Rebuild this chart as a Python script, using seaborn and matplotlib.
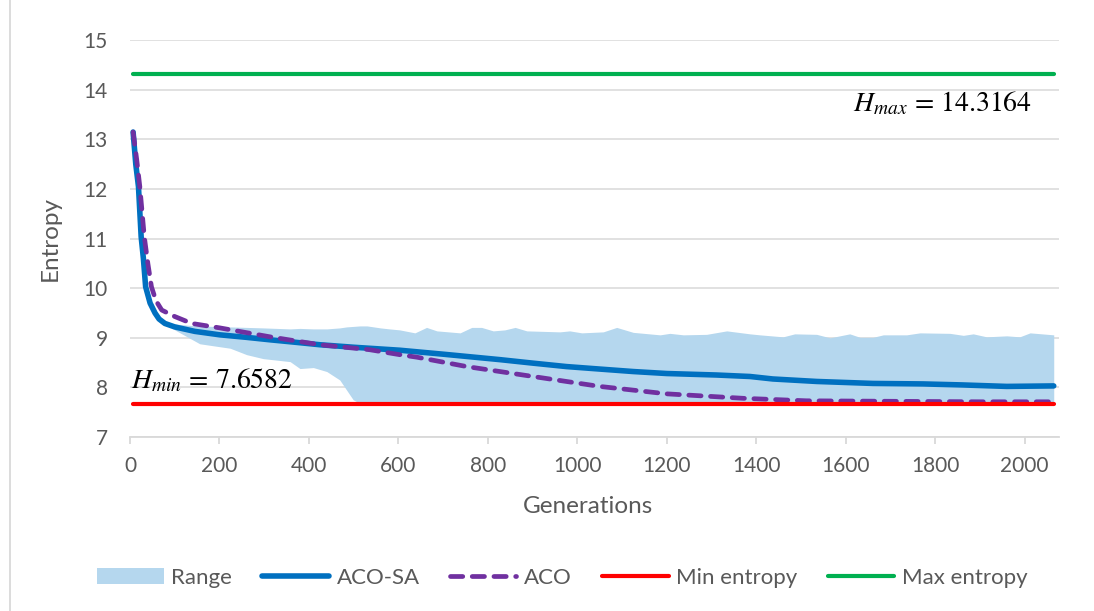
import numpy as np
import matplotlib
matplotlib.use("Agg")
import matplotlib.pyplot as plt
import seaborn as sns
from matplotlib.patches import Patch
from matplotlib.lines import Line2D

# === Data ===
H_MIN = 7.6582
H_MAX = 14.3164

# ACO-SA (solid blue)
sa_gen = [7, 13, 19, 25, 30, 35, 45, 56, 65, 78, 100, 145, 201, 260, 313, 370, 425, 500,
          603, 700, 827, 900, 976, 1050, 1125, 1200, 1311, 1386, 1437, 1535, 1661, 1773,
          1860, 1960, 2065]
sa_val = [13.15, 12.5, 12.05, 11.04, 10.6, 10.03, 9.7, 9.5, 9.38, 9.29, 9.22, 9.13, 9.06,
          9.01, 8.96, 8.91, 8.86, 8.81, 8.75, 8.67, 8.56, 8.49, 8.42, 8.37, 8.32, 8.28,
          8.25, 8.22, 8.17, 8.12, 8.08, 8.07, 8.05, 8.02, 8.03]

# ACO (dashed purple)
aco_gen = [7, 15, 22, 32, 40, 48, 58, 71, 100, 138, 201, 313, 425, 536, 603, 641, 753, 901,
           1050, 1200, 1371, 1512, 1700, 1900, 2065]
aco_val = [13.15, 12.6, 12.05, 11.04, 10.5, 10.03, 9.75, 9.56, 9.43, 9.29, 9.2, 9.02, 8.86,
           8.76, 8.66, 8.61, 8.42, 8.22, 8.02, 7.87, 7.78, 7.73, 7.72, 7.71, 7.71]

# Range band (lower / upper envelope)
band_gen = [60, 80, 100, 134, 156, 186, 224, 261, 298, 328, 358, 380, 410, 440, 469, 484,
            499, 514, 530, 560, 580, 603, 637, 663, 686, 738, 764, 786, 812, 838, 861, 887,
            961, 983, 1010, 1058, 1088, 1125, 1185, 1207, 1237, 1289, 1334, 1386, 1408,
            1460, 1486, 1535, 1565, 1609, 1632, 1661, 1684, 1736, 1766, 1833, 1863, 1885,
            1915, 1960, 1989, 2012, 2065]
band_low = [9.42, 9.28, 9.16, 8.99, 8.88, 8.84, 8.79, 8.66, 8.58, 8.55, 8.52, 8.38, 8.40,
            8.32, 8.15, 7.95, 7.75, 7.68] + [7.66] * 45
band_high = [9.42, 9.32, 9.28, 9.25, 9.24, 9.23, 9.22, 9.21, 9.20, 9.19, 9.18, 9.19, 9.18,
             9.18, 9.20, 9.22, 9.23, 9.24, 9.24, 9.20, 9.18, 9.16, 9.10, 9.21, 9.14, 9.10,
             9.21, 9.21, 9.14, 9.16, 9.21, 9.14, 9.12, 9.14, 9.10, 9.12, 9.21, 9.11, 9.06,
             9.09, 9.06, 9.07, 9.14, 9.08, 9.06, 9.02, 9.08, 9.07, 9.00, 9.08, 9.01, 9.01,
             9.06, 9.06, 9.10, 9.09, 9.05, 9.08, 9.02, 9.04, 9.02, 9.10, 9.06]

x_ticks = list(range(0, 2001, 200))
y_ticks = list(range(7, 16))

# === Style ===
sns.set_theme(style="white")
plt.rcParams['font.family'] = ['Lato', 'DejaVu Sans']
plt.rcParams['mathtext.fontset'] = 'stix'

GRAY = "#595959"
GRID = "#D9D9D9"
C_BAND = "#B5D7EE"
C_SA = "#0070C0"
C_ACO = "#7030A0"
C_MIN = "#FF0000"
C_MAX = "#00B050"

ACO_DASH = (0, (2.6, 2.0))

fig = plt.figure(figsize=(10.94, 6.11), dpi=100)
ax = fig.add_axes([0.1188, 0.2848, 0.8489, 0.6492])

for v in y_ticks:
    ax.axhline(v, color=GRID, lw=1.1, zorder=0)

ax.fill_between(band_gen, band_low, band_high, color=C_BAND, lw=0, zorder=1)

sns.lineplot(x=sa_gen, y=sa_val, ax=ax, color=C_SA, linewidth=4.0,
             solid_capstyle="round", zorder=3)
sns.lineplot(x=aco_gen, y=aco_val, ax=ax, color=C_ACO, linewidth=3.4,
             linestyle=ACO_DASH, dash_capstyle="round", zorder=4)
line_x = [sa_gen[0], sa_gen[-1]]
sns.lineplot(x=line_x, y=[H_MIN, H_MIN], ax=ax, color=C_MIN, linewidth=3.0,
             solid_capstyle="round", zorder=5)
sns.lineplot(x=line_x, y=[H_MAX, H_MAX], ax=ax, color=C_MAX, linewidth=3.0,
             solid_capstyle="round", zorder=5)

ax.text(1616, 13.56, r"$H_{max}\,=\,14.3164$", fontsize=20, color="black",
        ha="left", va="baseline", zorder=6)
ax.text(2, 7.99, r"$H_{min}\,=\,7.6582$", fontsize=20, color="black",
        ha="left", va="baseline", zorder=6)

ax.set_xlim(0, 2076)
ax.set_ylim(7, 15)
ax.set_xticks(x_ticks)
ax.set_yticks(y_ticks)
for s in ["top", "right", "left"]:
    ax.spines[s].set_visible(False)
ax.spines["bottom"].set_color(GRID)
ax.spines["bottom"].set_linewidth(1.3)
ax.spines["bottom"].set_zorder(0.5)
ax.tick_params(axis="x", colors=GRID, labelcolor=GRAY, labelsize=15, length=5,
               width=1.3, pad=9, bottom=True, direction="out")
ax.tick_params(axis="y", labelcolor=GRAY, labelsize=15, length=0, pad=16)

ax.set_xlabel("Generations", fontsize=17.5, color=GRAY)
ax.set_ylabel("Entropy", fontsize=17.5, color=GRAY)
ax.xaxis.set_label_coords(0.493, -0.15)
ax.yaxis.set_label_coords(-0.075, 0.5)

handles = [
    Patch(facecolor=C_BAND, edgecolor="none"),
    Line2D([0], [0], color=C_SA, lw=4.0, solid_capstyle="round"),
    Line2D([0], [0], color=C_ACO, lw=3.4, linestyle=ACO_DASH, dash_capstyle="round"),
    Line2D([0], [0], color=C_MIN, lw=3.0, solid_capstyle="round"),
    Line2D([0], [0], color=C_MAX, lw=3.0, solid_capstyle="round"),
]
labels = ["Range", "ACO-SA", "ACO", "Min entropy", "Max entropy"]
leg = fig.legend(handles, labels, loc="center", bbox_to_anchor=(0.514, 0.054), ncol=5,
                 frameon=False, fontsize=16, handlelength=3.0, handletextpad=0.35,
                 columnspacing=1.35, labelcolor=GRAY)

# chart-area border on the left
fig.add_artist(Line2D([0.009, 0.009], [0, 1], transform=fig.transFigure, color=GRID, lw=1.3))

fig.savefig("out.png", dpi=100)
